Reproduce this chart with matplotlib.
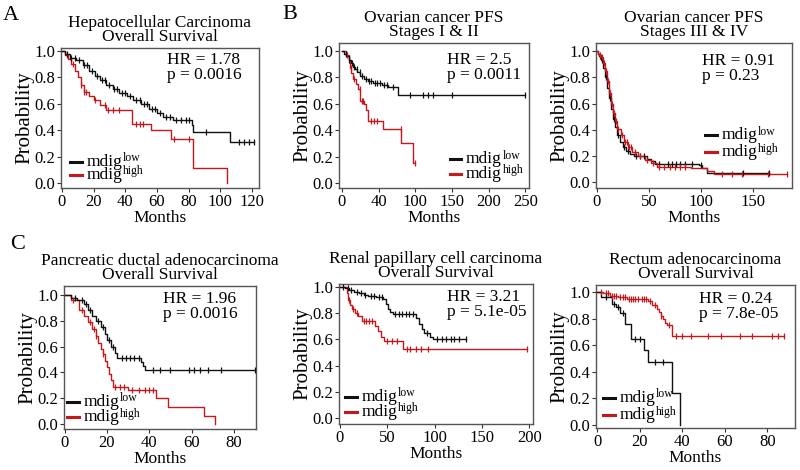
import numpy as np
import matplotlib
matplotlib.use("Agg")
import matplotlib.pyplot as plt

plt.rcParams['font.family'] = ['Liberation Serif', 'DejaVu Serif']

BLACK = '#111111'
RED = '#c8161d'

# ---- A: Hepatocellular carcinoma OS ----
hcc_low_t = [0, 2, 5, 9, 13, 17, 21, 24, 28, 32, 36, 41, 45, 50, 55, 60, 64, 70, 82, 83, 106]
hcc_low_s = [1.0, 0.98, 0.95, 0.93, 0.89, 0.85, 0.81, 0.78, 0.74, 0.71, 0.68, 0.66, 0.63, 0.60, 0.56, 0.53, 0.50, 0.48, 0.44, 0.39, 0.31]
hcc_low_end = 121
hcc_low_cens = [3, 6, 8, 11, 14, 16, 19, 22, 25, 27, 30, 33, 35, 38, 40, 43, 47, 49, 52, 54, 57, 59, 62, 66, 68, 72, 75, 78, 80, 91, 112, 115, 118, 121]
hcc_high_t = [0, 2, 4, 6, 8, 10, 12, 14, 17, 20, 24, 28, 44, 56, 69, 83, 104]
hcc_high_s = [1.0, 0.97, 0.94, 0.90, 0.85, 0.80, 0.74, 0.69, 0.66, 0.63, 0.59, 0.55, 0.45, 0.40, 0.33, 0.11, 0.0]
hcc_high_end = 104
hcc_high_cens = [3, 7, 12, 14, 15, 21, 27, 29, 32, 36, 47, 49, 51, 71, 80]

# ---- B: Ovarian PFS stages I & II ----
ov12_low_t = [0, 3, 6, 9, 12, 15, 18, 21, 25, 30, 35, 42, 55, 63, 76]
ov12_low_s = [1.0, 0.98, 0.96, 0.93, 0.91, 0.88, 0.86, 0.84, 0.81, 0.79, 0.77, 0.76, 0.74, 0.73, 0.67]
ov12_low_end = 250
ov12_low_cens = [5, 10, 14, 17, 20, 24, 28, 33, 37, 40, 45, 48, 52, 58, 62, 70, 93, 110, 117, 124, 150, 250]
ov12_high_t = [0, 5, 9, 11, 13, 15, 19, 22, 25, 30, 33, 36, 56, 81, 97]
ov12_high_s = [1.0, 0.97, 0.93, 0.87, 0.83, 0.79, 0.75, 0.71, 0.62, 0.60, 0.55, 0.47, 0.41, 0.30, 0.15]
ov12_high_end = 100
ov12_high_cens = [7, 12, 17, 24, 27, 29, 40, 44, 48, 80, 100]

# ---- B: Ovarian PFS stages III & IV ----
ov34_low_t = [0, 1, 2, 4, 6, 8, 10, 12, 14, 16, 18, 20, 22, 25, 28, 32, 36, 48, 52, 56, 98, 101, 106]
ov34_low_s = [1.0, 0.98, 0.96, 0.93, 0.87, 0.80, 0.72, 0.64, 0.56, 0.48, 0.42, 0.36, 0.31, 0.27, 0.24, 0.22, 0.20, 0.18, 0.16, 0.14, 0.13, 0.11, 0.075]
ov34_low_end = 165
ov34_low_cens = [3, 5, 9, 13, 17, 21, 26, 30, 38, 42, 45, 60, 68, 72, 76, 80, 85, 91, 100, 140, 165]
ov34_high_t = [0, 1, 2, 4, 6, 8, 10, 12, 14, 16, 18, 20, 23, 26, 30, 34, 40, 46, 52, 58, 90, 106, 112]
ov34_high_s = [1.0, 0.98, 0.97, 0.95, 0.91, 0.85, 0.77, 0.68, 0.60, 0.53, 0.47, 0.41, 0.36, 0.31, 0.27, 0.23, 0.20, 0.17, 0.15, 0.12, 0.11, 0.09, 0.065]
ov34_high_end = 182
ov34_high_cens = [3, 5, 7, 9, 11, 13, 15, 17, 19, 21, 24, 27, 29, 31, 33, 37, 42, 48, 54, 60, 65, 70, 75, 80, 85, 120, 130, 139, 164, 182]

# ---- C: Pancreatic ductal adenocarcinoma OS ----
pdac_low_t = [0, 3, 6, 9, 11, 13, 15, 17, 19, 20, 22, 24, 25, 36, 37, 38]
pdac_low_s = [1.0, 0.98, 0.96, 0.93, 0.88, 0.84, 0.80, 0.75, 0.70, 0.65, 0.60, 0.55, 0.51, 0.48, 0.45, 0.42]
pdac_low_end = 90
pdac_low_cens = [5, 8, 10, 12, 16, 18, 21, 23, 27, 29, 31, 33, 35, 42, 45, 50, 59, 61, 64, 68, 74, 90]
pdac_high_t = [0, 3, 7, 9, 11, 13, 15, 16, 17, 18, 19, 20, 21, 22, 23, 30, 43, 49, 66, 71]
pdac_high_s = [1.0, 0.96, 0.88, 0.84, 0.79, 0.74, 0.68, 0.63, 0.58, 0.54, 0.49, 0.44, 0.39, 0.34, 0.29, 0.265, 0.20, 0.13, 0.06, 0.0]
pdac_high_end = 71
pdac_high_cens = [4, 8, 12, 14, 15, 18, 24, 26, 28, 32, 35, 38, 40, 42]

# ---- Renal papillary cell carcinoma OS ----
kirp_low_t = [0, 5, 10, 15, 20, 25, 30, 38, 46, 49, 51, 53, 56, 80, 84, 87, 89, 95, 98]
kirp_low_s = [1.0, 0.99, 0.975, 0.96, 0.95, 0.94, 0.93, 0.92, 0.91, 0.87, 0.83, 0.81, 0.79, 0.76, 0.72, 0.68, 0.645, 0.62, 0.60]
kirp_low_end = 133
kirp_low_cens = [3, 8, 12, 18, 22, 27, 33, 36, 41, 44, 58, 62, 66, 70, 73, 77, 92, 103, 108, 112, 117, 121, 126, 133]
kirp_high_t = [0, 7, 9, 11, 13, 16, 19, 23, 37, 40, 43, 47, 67]
kirp_high_s = [1.0, 0.95, 0.90, 0.86, 0.83, 0.80, 0.78, 0.74, 0.70, 0.66, 0.62, 0.585, 0.525]
kirp_high_end = 198
kirp_high_cens = [10, 14, 18, 25, 28, 31, 34, 50, 55, 60, 71, 74, 80, 86, 93, 198]

# ---- Rectum adenocarcinoma OS ----
read_low_t = [0, 2, 7, 9, 11, 13, 16, 22, 24, 35, 39]
read_low_s = [1.0, 0.96, 0.91, 0.89, 0.84, 0.76, 0.65, 0.56, 0.47, 0.24, 0.0]
read_low_end = 39
read_low_cens = [4, 8, 10, 12, 18, 20, 27, 31]
read_high_t = [0, 3, 6, 10, 14, 20, 24, 26, 28, 29, 30, 31, 32, 33, 35]
read_high_s = [1.0, 0.99, 0.97, 0.96, 0.95, 0.945, 0.93, 0.90, 0.87, 0.85, 0.82, 0.80, 0.77, 0.75, 0.67]
read_high_end = 88
read_high_cens = [2, 4, 5, 7, 8, 9, 11, 12, 13, 15, 16, 17, 18, 19, 21, 22, 23, 25, 27, 30, 34, 37, 40, 44, 52, 58, 67, 73, 82, 85, 88]

hr_text = ["HR = 1.78\np = 0.0016", "HR = 2.5\np = 0.0011", "HR = 0.91\np = 0.23",
           "HR = 1.96\np = 0.0016", "HR = 3.21\np = 5.1e-05", "HR = 0.24\np = 7.8e-05"]
titles = ["Hepatocellular Carcinoma\nOverall Survival", "Ovarian cancer PFS\nStages I & II",
          "Ovarian cancer PFS\nStages III & IV", "Pancreatic ductal adenocarcinoma\nOverall Survival",
          "Renal papillary cell carcinoma\nOverall Survival", "Rectum adenocarcinoma\nOverall Survival"]


def km(ax, t, s, end, cens, color):
    t = np.asarray(t, float)
    s = np.asarray(s, float)
    xs = np.append(t, end)
    ys = np.append(s, s[-1])
    ax.plot(xs, ys, drawstyle='steps-post', color=color, lw=1.0, zorder=3)
    c = np.asarray(cens, float)
    idx = np.searchsorted(t, c, side='right') - 1
    ax.plot(c, s[idx], ls='none', marker='|', ms=4, mew=0.9, color=color, zorder=4)


fig = plt.figure(figsize=(8, 4.7), dpi=100)
renderer = fig.canvas.get_renderer()


def legend(ax, x0, y_low, y_high):
    for y, col, sup in [(y_low, BLACK, 'low'), (y_high, RED, 'high')]:
        ax.plot([x0, x0 + 0.06], [y, y], transform=ax.transAxes, color=col, lw=2.2, clip_on=False)
        t = ax.text(x0 + 0.085, y, 'mdig', transform=ax.transAxes, fontsize=12.5,
                    va='center', ha='left')
        bb = t.get_window_extent(renderer)
        xa, ya = ax.transAxes.inverted().transform((bb.x1 + 0.5, bb.y1 + 1.5))
        ax.text(xa, ya, sup, transform=ax.transAxes, fontsize=8.5, va='top', ha='left')


# axes rectangles in figure fraction
rects = [[0.07625, 0.600, 0.2475, 0.298],
         [0.42375, 0.600, 0.2375, 0.3085],
         [0.745, 0.600, 0.245, 0.3085],
         [0.080, 0.0872, 0.240, 0.3043],
         [0.42375, 0.0979, 0.2425, 0.298],
         [0.745, 0.0894, 0.24875, 0.3043]]
xlims = [(-0.6, 124.4), (-4, 255), (-0.5, 187), (-0.3, 90.5), (-1, 204), (-0.5, 93)]
ylims = [(-0.038, 1.023), (-0.038, 1.06), (-0.042, 1.06), (-0.039, 1.07), (-0.046, 1.023), (-0.023, 1.053)]
xticks = [[0, 20, 40, 60, 80, 100, 120], [0, 50, 100, 150, 200, 250], [0, 50, 100, 150],
          [0, 20, 40, 60, 80], [0, 50, 100, 150, 200], [0, 20, 40, 60, 80]]
xticklabels = [None, ['0', '40', '100', '150', '200', '250'], None, None, None, None]
hr_pos = [(0.535, 0.86), (0.57, 0.83), (0.54, 0.825), (0.515, 0.857), (0.557, 0.853), (0.52, 0.85)]
leg_pos = [(0.045, 0.186, 0.093), (0.584, 0.20, 0.097), (0.556, 0.364, 0.247),
           (0.016, 0.189, 0.084), (0.031, 0.193, 0.086), (0.035, 0.21, 0.09)]

curves = [
    [(hcc_low_t, hcc_low_s, hcc_low_end, hcc_low_cens), (hcc_high_t, hcc_high_s, hcc_high_end, hcc_high_cens)],
    [(ov12_low_t, ov12_low_s, ov12_low_end, ov12_low_cens), (ov12_high_t, ov12_high_s, ov12_high_end, ov12_high_cens)],
    [(ov34_low_t, ov34_low_s, ov34_low_end, ov34_low_cens), (ov34_high_t, ov34_high_s, ov34_high_end, ov34_high_cens)],
    [(pdac_low_t, pdac_low_s, pdac_low_end, pdac_low_cens), (pdac_high_t, pdac_high_s, pdac_high_end, pdac_high_cens)],
    [(kirp_low_t, kirp_low_s, kirp_low_end, kirp_low_cens), (kirp_high_t, kirp_high_s, kirp_high_end, kirp_high_cens)],
    [(read_low_t, read_low_s, read_low_end, read_low_cens), (read_high_t, read_high_s, read_high_end, read_high_cens)],
]

for i in range(6):
    ax = fig.add_axes(rects[i])
    low, high = curves[i]
    if i == 2:
        km(ax, *low, BLACK)
        km(ax, *high, RED)
    else:
        km(ax, *high, RED)
        km(ax, *low, BLACK)
    ax.set_xlim(*xlims[i])
    ax.set_ylim(*ylims[i])
    ax.set_xticks(xticks[i])
    if xticklabels[i] is not None:
        ax.set_xticklabels(xticklabels[i])
    ax.set_yticks([0, 0.2, 0.4, 0.6, 0.8, 1.0])
    ax.set_yticklabels(['0.0', '0.2', '0.4', '0.6', '0.8', '1.0'])
    ax.tick_params(labelsize=12, length=3, width=0.8, pad=1, colors='#333333', labelcolor='black')
    for sp in ax.spines.values():
        sp.set_color('#555555')
        sp.set_linewidth(1.0)
    ax.set_xlabel('Months', fontsize=12.5, labelpad=0)
    ax.set_ylabel('Probability', fontsize=15, labelpad=0)
    ax.set_title(titles[i], fontsize=12.5, linespacing=0.85, pad=5)
    ax.text(hr_pos[i][0], hr_pos[i][1], hr_text[i], transform=ax.transAxes,
            fontsize=12.5, ha='left', va='center', linespacing=0.95)
    legend(ax, *leg_pos[i])

fig.text(0.014, 0.968, 'A', fontsize=16, ha='center', va='center')
fig.text(0.3625, 0.970, 'B', fontsize=16, ha='center', va='center')
fig.text(0.022, 0.479, 'C', fontsize=16, ha='center', va='center')

fig.savefig('out.png', dpi=100)
